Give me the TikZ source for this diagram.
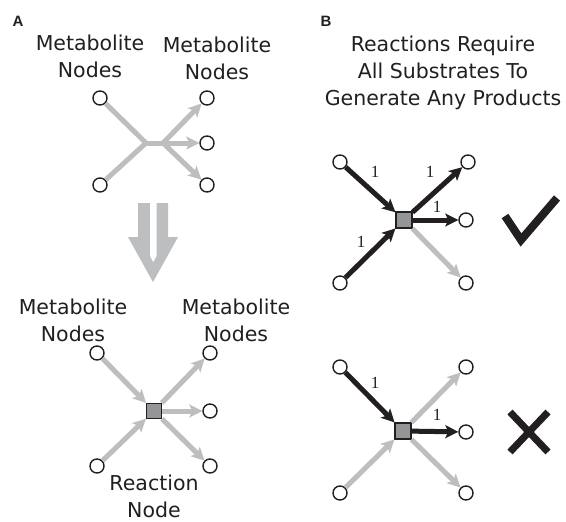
\documentclass[tikz,border=0pt]{standalone}
\usepackage{fontspec}
\setmainfont{DejaVu Sans}
\newfontfamily\labfont{Liberation Sans}
\newfontfamily\numfont{Liberation Serif}
\usetikzlibrary{arrows.meta}
\definecolor{ink}{HTML}{231F20}
\definecolor{lgray}{HTML}{BCBEC0}
\definecolor{sqgray}{HTML}{939598}
\tikzset{
  met/.style={circle,draw=ink,fill=white,line width=1.4pt,minimum size=14pt,inner sep=0pt},
  rxn/.style={rectangle,draw=ink,fill=sqgray,line width=1.1pt,minimum size=15pt,inner sep=0pt},
  garrow/.style={draw=lgray,line width=5pt,-{Stealth[length=13pt,width=13pt,inset=3pt]}},
  gline/.style={draw=lgray,line width=5pt},
  barrow/.style={draw=ink,line width=5pt,-{Stealth[length=13pt,width=13pt,inset=3pt]}},
  txt/.style={text=ink,font=\fontsize{20.5}{27}\selectfont,align=center,inner sep=0pt},
  one/.style={text=ink,font=\numfont\fontsize{17}{18}\selectfont,inner sep=0pt},
  panel/.style={text=ink,font=\labfont\bfseries\fontsize{15}{16}\selectfont,inner sep=0pt}
}
\begin{document}
\begin{tikzpicture}[x=1pt,y=-1pt]
\path[use as bounding box,fill=white] (0,0) rectangle (566,522);
% Panel labels
\node[panel] (pA) at (18,21) {A};
\node[panel] (pB) at (326,21) {B};
% ---------- Panel A top ----------
\node[txt] (t1) at (90,56) {Metabolite\\Nodes};
\node[txt] (t2) at (217,58) {Metabolite\\Nodes};
\node[met] (a1) at (100,98) {};
\node[met] (a2) at (100,185) {};
\node[met] (a3) at (207,98) {};
\node[met] (a4) at (207,143) {};
\node[met] (a5) at (207,185) {};
\coordinate (j1) at (146,143);
\coordinate (j2) at (163,143);
\draw[gline] (a1) -- (j1);
\draw[gline] (a2) -- (j1);
\draw[gline,line cap=rect] (j1) -- (j2);
\draw[garrow] (j2) -- (a3);
\draw[garrow] (j2) -- (a4);
\draw[garrow] (j2) -- (a5);
% ---------- Big down arrow ----------
\fill[lgray] (138,203) -- (168,203) -- (168,237) -- (178,237) -- (153,282) -- (128,237) -- (138,237) -- cycle;
\fill[white] (150,200) -- (156.5,200) -- (156.5,256) -- (153.25,262) -- (150,256) -- cycle;
% ---------- Panel A bottom ----------
\node[txt] (t3) at (73,320) {Metabolite\\Nodes};
\node[txt] (t4) at (236,320) {Metabolite\\Nodes};
\node[met] (b1) at (97,353) {};
\node[met] (b2) at (97,466) {};
\node[met] (b3) at (210,353) {};
\node[met] (b4) at (210,411) {};
\node[met] (b5) at (210,466) {};
\node[rxn] (r1) at (154,411) {};
\draw[garrow] (b1) -- (r1);
\draw[garrow] (b2) -- (r1);
\draw[garrow] (r1) -- (b3);
\draw[garrow] (r1) -- (b4);
\draw[garrow] (r1) -- (b5);
\node[txt] (t5) at (154,496) {Reaction\\Node};
% ---------- Panel B title ----------
\node[txt] (t6) at (443,73) {Reactions Require\\All Substrates To\\Generate Any Products};
% ---------- Panel B upper ----------
\node[met] (c1) at (340,162) {};
\node[met] (c2) at (340,283) {};
\node[met] (c3) at (468,162) {};
\node[met] (c4) at (466,220) {};
\node[met] (c5) at (466,283) {};
\node[rxn,minimum size=16pt] (r2) at (404,220) {};
\draw[garrow] (r2) -- (c5);
\draw[barrow] (c1) -- (r2);
\draw[barrow] (c2) -- (r2);
\draw[barrow] (r2) -- (c3);
\draw[barrow] (r2) -- (c4);
\node[one] (l1) at (375,172) {1};
\node[one] (l2) at (430,172) {1};
\node[one] (l3) at (437,207) {1};
\node[one] (l4) at (361,242) {1};
\draw[ink,line width=8pt,line join=miter] (505,216) coordinate (k1) -- (521,240) coordinate (k2) -- (557,198) coordinate (k3);
% ---------- Panel B lower ----------
\node[met] (d1) at (340,367) {};
\node[met] (d2) at (340,493) {};
\node[met] (d3) at (466,367) {};
\node[met] (d4) at (466,432) {};
\node[met] (d5) at (466,493) {};
\node[rxn,minimum size=16pt] (r3) at (403,431) {};
\draw[garrow] (d2) -- (r3);
\draw[garrow] (r3) -- (d3);
\draw[garrow] (r3) -- (d5);
\draw[barrow] (d1) -- (r3);
\draw[barrow] (r3) -- (d4);
\node[one] (l5) at (375,383) {1};
\node[one] (l6) at (437,415) {1};
\draw[ink,line width=7pt] (510,412) coordinate (x1) -- (548,452) coordinate (x2);
\draw[ink,line width=7pt] (548,412) coordinate (x3) -- (510,452) coordinate (x4);
\end{tikzpicture}
\end{document}
